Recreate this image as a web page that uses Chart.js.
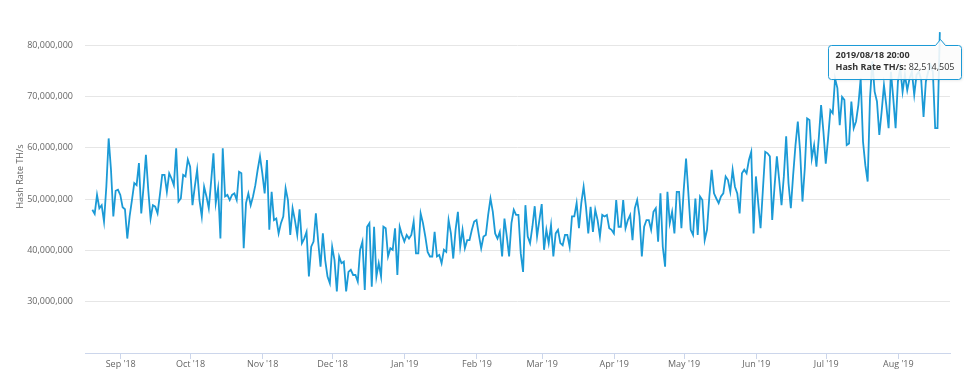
<!DOCTYPE html>
<html>
<head>
<meta charset="utf-8">
<script src="https://cdn.jsdelivr.net/npm/chart.js@4.4.0/dist/chart.umd.min.js"></script>
<style>
  html, body { margin: 0; padding: 0; background: #fff; }
</style>
</head>
<body>
<canvas id="chart" width="964" height="374"></canvas>
<script>
// ------------------------------------------------------------
// Hash rate, one reading per day, 2018/08/19 20:00 -> 2019/08/18 20:00
// ------------------------------------------------------------
const DAY         = 86400000;
const FIRST_POINT = Date.UTC(2018, 7, 19, 20);
const ORIGIN      = Date.UTC(2018, 8, 1);      // x axis = days since 1 Sep 2018

// millions of TH/s
const hashRateM = [
  47.9, 47.1, 50.8, 48.2, 48.8, 45.6, 52.4, 61.8, 55.7, 46.6,
  51.6, 51.8, 50.8, 48.4, 48.0, 42.3, 46.6, 49.8, 53.1, 52.7,
  57.0, 47.2, 52.4, 58.6, 51.8, 46.2, 48.8, 48.5, 47.2, 50.8,
  54.7, 54.7, 51.4, 55.0, 54.0, 52.7, 59.9, 49.5, 50.1, 54.7,
  54.4, 57.7, 56.3, 48.8, 52.4, 55.7, 49.8, 46.6, 52.4, 50.5,
  48.2, 53.4, 58.9, 49.2, 52.1, 42.3, 59.9, 50.5, 50.8, 49.8,

  50.8, 51.1, 49.8, 55.3, 55.0, 40.4, 49.2, 51.1, 48.8, 50.5,
  52.7, 55.7, 58.3, 55.0, 51.1, 57.6, 44.0, 51.4, 45.9, 46.2,
  43.3, 45.3, 46.6, 52.1, 49.8, 43.0, 48.2, 45.9, 43.0, 48.0,
  41.4, 42.3, 43.6, 34.9, 40.7, 41.7, 47.2, 41.7, 36.8, 43.3,
  38.1, 34.9, 33.6, 40.7, 38.1, 32.0, 38.8, 37.5, 37.8, 32.0,
  35.8, 36.2, 35.2, 35.2, 33.9, 40.1, 41.7, 32.3, 44.6, 45.3,

  32.9, 44.6, 34.9, 37.5, 34.9, 44.6, 44.3, 38.8, 40.4, 40.1,
  44.3, 35.2, 44.6, 43.0, 41.7, 43.0, 42.3, 43.0, 45.6, 39.4,
  39.4, 47.2, 45.3, 42.7, 39.7, 38.8, 38.8, 43.6, 38.8, 39.1,
  37.5, 40.1, 39.7, 45.9, 43.3, 38.4, 44.0, 47.5, 40.7, 44.0,
  40.4, 42.0, 42.0, 44.0, 45.6, 45.9, 43.0, 40.4, 42.7, 43.0,
  46.9, 50.1, 47.5, 43.3, 42.3, 43.6, 38.8, 46.2, 42.7, 38.8,

  45.3, 47.9, 46.9, 46.9, 39.4, 35.8, 48.8, 42.7, 41.4, 44.6,
  48.6, 42.7, 45.9, 49.0, 40.1, 44.0, 41.4, 44.9, 38.8, 43.3,
  44.0, 41.4, 41.0, 43.0, 43.0, 40.7, 46.6, 46.6, 49.2, 44.3,
  49.2, 52.4, 48.5, 43.3, 48.5, 43.6, 47.9, 45.9, 42.7, 46.9,
  46.6, 46.9, 44.3, 44.0, 43.3, 49.8, 44.6, 44.6, 49.8, 44.3,
  45.9, 46.9, 42.0, 48.2, 49.8, 46.6, 38.8, 44.6, 45.9, 45.9,

  44.0, 47.5, 48.2, 41.7, 51.1, 40.7, 36.8, 51.4, 45.3, 47.5,
  43.3, 51.4, 51.4, 44.3, 51.8, 57.9, 51.1, 44.0, 43.0, 50.1,
  43.0, 50.5, 49.8, 42.0, 44.0, 50.5, 55.7, 51.1, 50.1, 49.2,
  50.5, 51.1, 54.4, 53.7, 51.4, 55.7, 52.4, 51.1, 47.2, 55.0,
  55.7, 55.0, 57.6, 59.2, 43.3, 54.4, 49.2, 44.3, 51.8, 59.2,
  58.9, 58.3, 45.9, 52.4, 58.3, 53.7, 48.8, 54.4, 62.2, 53.1,

  48.2, 54.7, 60.5, 65.1, 59.2, 49.5, 56.0, 65.7, 65.4, 57.9,
  60.5, 56.3, 61.8, 68.3, 63.1, 56.9, 61.8, 67.3, 66.7, 73.5,
  71.6, 64.4, 69.9, 69.3, 60.5, 60.8, 69.0, 63.8, 65.1, 68.3,
  73.5, 61.2, 56.6, 53.4, 69.6, 76.8, 70.9, 69.0, 62.5, 67.0,
  72.2, 68.3, 63.8, 74.8, 69.6, 63.8, 72.9, 75.5, 70.9, 74.2,
  71.2, 73.5, 74.8, 70.3, 74.2, 74.8, 73.2, 66.0, 72.9, 74.8,
  76.1, 74.8, 63.8, 63.8, 82.514505
];

const monthStarts = [
  '2018-09-01','2018-10-01','2018-11-01','2018-12-01','2019-01-01','2019-02-01',
  '2019-03-01','2019-04-01','2019-05-01','2019-06-01','2019-07-01','2019-08-01'
];
const monthLabels = [
  "Sep '18","Oct '18","Nov '18","Dec '18","Jan '19","Feb '19",
  "Mar '19","Apr '19","May '19","Jun '19","Jul '19","Aug '19"
];
const yTicks = [30e6, 40e6, 50e6, 60e6, 70e6, 80e6];

const LINE_COLOR = '#1b9ad6';
const FONT       = '"Open Sans", "DejaVu Sans", sans-serif';

function _dayOf(ts)  { return (ts - ORIGIN) / DAY; }
function _monthDay(s) {
  const [y, m, d] = s.split('-').map(Number);
  return _dayOf(Date.UTC(y, m - 1, d));
}
function _pad(n) { return String(n).padStart(2, '0'); }
function _fmtStamp(ts) {
  const d = new Date(ts);
  return `${d.getUTCFullYear()}/${_pad(d.getUTCMonth() + 1)}/${_pad(d.getUTCDate())} ` +
         `${_pad(d.getUTCHours())}:${_pad(d.getUTCMinutes())}`;
}

const points = hashRateM.map((v, i) => ({ x: _dayOf(FIRST_POINT + i * DAY), y: v * 1e6 }));
const tickDays = monthStarts.map(_monthDay);

// Highcharts-style callout for the last reading
const lastTooltip = {
  id: 'lastTooltip',
  afterDraw(chart) {
    const i   = hashRateM.length - 1;
    const pt  = chart.getDatasetMeta(0).data[i];
    const ctx = chart.ctx;

    const title = _fmtStamp(FIRST_POINT + i * DAY);
    const label = 'Hash Rate TH/s:';
    const value = ' ' + Math.round(hashRateM[i] * 1e6).toLocaleString('en-US');

    ctx.save();
    ctx.font = `bold 9px ${FONT}`;
    const wTitle = ctx.measureText(title).width;
    const wLabel = ctx.measureText(label).width;
    ctx.font = `9px ${FONT}`;
    const wValue = ctx.measureText(value).width;

    const w = Math.max(wTitle, wLabel + wValue) + 14;
    const h = 34;
    const x = Math.min(pt.x - w / 2, chart.width - w - 3) + 0.5;
    const y = Math.round(pt.y + 13) + 0.5;
    const r = 3, c = 5;
    const cx = Math.round(pt.x) + 0.5;

    ctx.beginPath();
    ctx.moveTo(x + r, y);
    ctx.lineTo(cx - c, y);
    ctx.lineTo(cx, y - c - 1);
    ctx.lineTo(cx + c, y);
    ctx.lineTo(x + w - r, y);
    ctx.arcTo(x + w, y, x + w, y + r, r);
    ctx.lineTo(x + w, y + h - r);
    ctx.arcTo(x + w, y + h, x + w - r, y + h, r);
    ctx.lineTo(x + r, y + h);
    ctx.arcTo(x, y + h, x, y + h - r, r);
    ctx.lineTo(x, y + r);
    ctx.arcTo(x, y, x + r, y, r);
    ctx.closePath();
    ctx.shadowColor   = 'rgba(0,0,0,0.12)';
    ctx.shadowOffsetX = 1;
    ctx.shadowOffsetY = 1;
    ctx.shadowBlur    = 3;
    ctx.fillStyle = 'rgba(255,255,255,0.88)';
    ctx.fill();
    ctx.shadowColor = 'transparent';
    ctx.strokeStyle = LINE_COLOR;
    ctx.lineWidth   = 1;
    ctx.stroke();

    ctx.textBaseline = 'middle';
    ctx.fillStyle    = '#333';
    ctx.font = `bold 9px ${FONT}`;
    ctx.fillText(title, x + 7, y + 10);
    ctx.fillText(label, x + 7, y + 22);
    ctx.font = `9px ${FONT}`;
    ctx.fillText(value, x + 7 + wLabel, y + 22);
    ctx.restore();
  },
};

new Chart(document.getElementById('chart'), {
  type: 'line',
  data: {
    datasets: [{
      label:       'Hash Rate TH/s',
      data:        points,
      borderColor: LINE_COLOR,
      borderWidth: 1.8,
      pointRadius: 0,
      tension:     0,
      fill:        false,
    }],
  },
  options: {
    responsive: false,
    animation:  false,
    layout: { padding: { top: 0, right: 14, bottom: 0, left: 0 } },
    plugins: {
      legend:  { display: false },
      tooltip: { enabled: false },
    },
    scales: {
      x: {
        type: 'linear',
        min:  -15.33,
        max:  356.2,
        afterBuildTicks: s => { s.ticks = tickDays.map(v => ({ value: v })); },
        afterFit: s => { s.height = 21; s.paddingLeft = 0; s.paddingRight = 0; },
        grid:   { drawOnChartArea: false, drawTicks: true, tickLength: 6, color: '#ccd6eb' },
        border: { display: true, color: '#ccd6eb', width: 1 },
        ticks: {
          autoSkip:    false,
          maxRotation: 0,
          padding:     0,
          color:       '#666',
          font:        { family: FONT, size: 9 },
          callback:    (v, i) => monthLabels[i],
        },
      },
      y: {
        min: 20e6,
        max: 88.77e6,
        afterBuildTicks: s => { s.ticks = yTicks.map(v => ({ value: v })); },
        afterFit: s => { s.width = 85; s.paddingTop = 0; s.paddingBottom = 0; },
        grid:   { color: '#e6e6e6', drawTicks: false },
        border: { display: false },
        ticks: {
          padding:  12,
          color:    '#666',
          font:     { family: FONT, size: 9 },
          callback: v => v.toLocaleString('en-US'),
        },
        title: {
          display: true,
          text:    'Hash Rate TH/s',
          color:   '#666',
          font:    { family: FONT, size: 9 },
          padding: { top: 15, bottom: 0 },
        },
      },
    },
  },
  plugins: [lastTooltip],
});
</script>
</body>
</html>
